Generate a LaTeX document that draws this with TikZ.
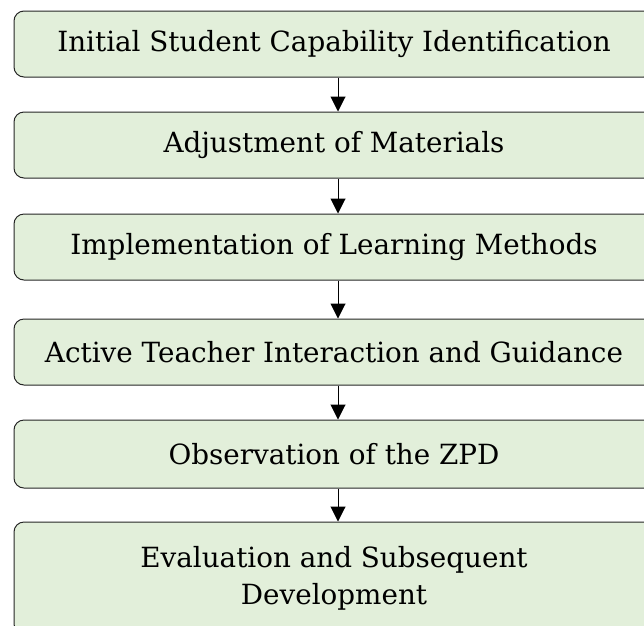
\documentclass[tikz,border=0pt]{standalone}
\usepackage{fontspec}
\setmainfont{DejaVu Serif}
\usetikzlibrary{arrows.meta}
\definecolor{boxgreen}{RGB}{226,239,218}
\tikzset{
  stepbox/.style={draw=black!85, fill=boxgreen, rounded corners=10pt,
    minimum width=640pt, minimum height=66pt, inner sep=0pt, align=center,
    line width=1pt, font=\fontsize{27.8}{37}\selectfont},
  flow/.style={-{Triangle[width=15pt,length=15pt]}, line width=1pt}
}
\begin{document}
\begin{tikzpicture}[x=1pt,y=1pt]
            \useasboundingbox (0,0) rectangle (644,-625);

            %le caselle
            \node[stepbox] (ident) at (334,-44) {Initial Student Capability Identification};
            \node[stepbox] (adjust) at (334,-145) {Adjustment of Materials};
            \node[stepbox] (methods) at (334,-247) {Implementation of Learning Methods};
            \node[stepbox] (guide) at (334,-352) {Active Teacher Interaction and Guidance};
            \node[stepbox, minimum height=68pt] (zpd) at (334,-454) {Observation of the ZPD};
            \node[stepbox, minimum height=112pt] (eval) at (334,-578) {Evaluation and Subsequent\\Development};

            %le frecce (un po' a destra del centro)
            \draw[flow] ([xshift=4pt]ident.south) -- ([xshift=4pt]adjust.north);
            \draw[flow] ([xshift=4pt]adjust.south) -- ([xshift=4pt]methods.north);
            \draw[flow] ([xshift=4pt]methods.south) -- ([xshift=4pt]guide.north);
            \draw[flow] ([xshift=4pt]guide.south) -- ([xshift=4pt]zpd.north);
            \draw[flow] ([xshift=4pt]zpd.south) -- ([xshift=4pt]eval.north);

        \end{tikzpicture}
\end{document}
